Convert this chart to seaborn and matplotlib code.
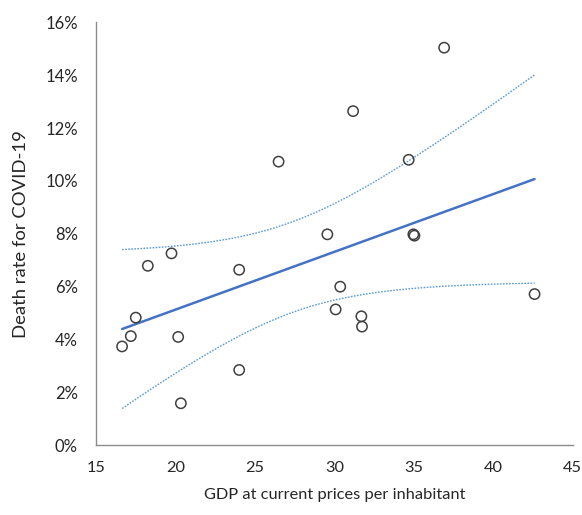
import numpy as np
import pandas as pd
import seaborn as sns
import matplotlib
matplotlib.use("Agg")
import matplotlib.pyplot as plt
from matplotlib.ticker import FuncFormatter

gdp = [16.64, 17.19, 17.50, 18.26, 19.75, 20.17, 20.34, 24.01, 24.01, 26.49,
       29.56, 30.08, 30.37, 31.18, 31.70, 31.74, 34.68, 34.97, 35.04, 36.91, 42.60]
death_rate = [3.74, 4.13, 4.83, 6.79, 7.26, 4.10, 1.59, 6.64, 2.85, 10.73,
              7.98, 5.14, 6.00, 12.64, 4.88, 4.49, 10.80, 7.98, 7.93, 15.04, 5.72]
x_ticks = [15, 20, 25, 30, 35, 40, 45]
y_ticks = [0, 2, 4, 6, 8, 10, 12, 14, 16]

df = pd.DataFrame({"gdp": gdp, "rate": death_rate})

# OLS fit with analytic confidence band
x = np.array(gdp); y = np.array(death_rate)
n = len(x)
b1, b0 = np.polyfit(x, y, 1)
resid = y - (b0 + b1 * x)
s = np.sqrt(np.sum(resid ** 2) / (n - 2))
tcrit = 2.65
xs = np.linspace(x.min(), x.max(), 200)
yhat = b0 + b1 * xs
se = s * np.sqrt(1 / n + (xs - x.mean()) ** 2 / np.sum((x - x.mean()) ** 2))
fit = pd.DataFrame({"x": xs, "fit": yhat, "lo": yhat - tcrit * se, "hi": yhat + tcrit * se})

sns.set_style("white")
plt.rcParams["font.family"] = ["Lato", "DejaVu Sans"]

fig = plt.figure(figsize=(5.82, 5.15), dpi=100)
ax = fig.add_axes([0.165, 0.1353, 0.819, 0.8214])

dot = (0, (1.2, 1.0))
sns.lineplot(data=fit, x="x", y="hi", ax=ax, color="#5B9BD5", lw=1.0, linestyle=dot)
sns.lineplot(data=fit, x="x", y="lo", ax=ax, color="#5B9BD5", lw=1.0, linestyle=dot)
sns.lineplot(data=fit, x="x", y="fit", ax=ax, color="#4472C4", lw=1.8)
sns.scatterplot(data=df, x="gdp", y="rate", ax=ax, marker="o", s=55,
                facecolor="none", edgecolor="#404040", linewidth=1.1, zorder=5)

ax.set_xlim(15, 45)
ax.set_ylim(0, 16)
ax.set_xticks(x_ticks)
ax.set_yticks(y_ticks)
ax.yaxis.set_major_formatter(FuncFormatter(lambda v, p: f"{v:.0f}%"))
for sp in ["top", "right"]:
    ax.spines[sp].set_visible(False)
for sp in ["left", "bottom"]:
    ax.spines[sp].set_color("#8c8c8c")
    ax.spines[sp].set_linewidth(1.0)
ax.tick_params(axis="both", which="major", direction="out", length=5, width=1.0,
               color="#8c8c8c", labelsize=12, labelcolor="#262626", pad=8)
ax.tick_params(axis="x", pad=6, labelsize=11.8)
ax.set_xlabel("GDP at current prices per inhabitant", fontsize=11.8, color="#262626", labelpad=10)
ax.set_ylabel("Death rate for COVID-19", fontsize=13.3, color="#262626", labelpad=12)
ax.grid(False)

fig.savefig("out.png", dpi=100)
